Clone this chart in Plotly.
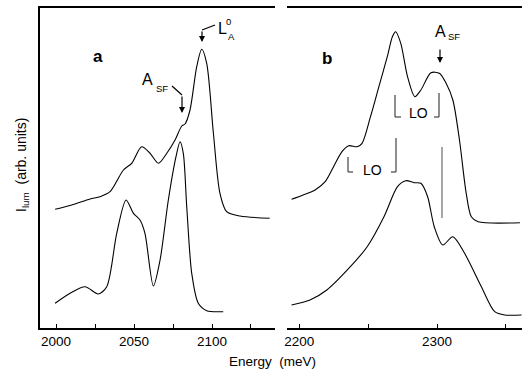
import plotly.graph_objects as go

# ---- data (energy in meV, intensity in arbitrary units) ----
E_a_up = [1999.4, 2010, 2021.8, 2028.2, 2034.6, 2043.2, 2048.5, 2054.9, 2060.3, 2065.6,
          2071.0, 2076.3, 2080.6, 2082.7, 2085.9, 2090.2, 2093.4, 2096.6, 2100.9, 2105.1,
          2109.4, 2118.0, 2137.0]
I_a_up = [118.7, 123, 129.0, 131.3, 136.3, 158.0, 164.7, 181.3, 174.7, 164.7,
          174.7, 188.0, 202.0, 204.0, 218.0, 261.3, 278.7, 264.7, 194.7, 134.7,
          116.3, 112.0, 109.7]

E_a_lo = [1999.4, 2009.0, 2018.6, 2027.1, 2032.5, 2038.9, 2044.9, 2049.6, 2053.8, 2057.0,
          2062.4, 2066.7, 2072.0, 2076.9, 2079.5, 2081.6, 2083.8, 2087.0, 2091.2, 2096.6,
          2107.2]
I_a_lo = [24.7, 34.7, 41.3, 34.0, 41.3, 94.7, 128.0, 114.7, 108.0, 94.7,
          42.0, 68.0, 128.0, 171.3, 186.3, 174.7, 121.3, 54.7, 24.7, 17.3,
          16.3]

E_b_up = [2194.4, 2202.9, 2211.5, 2218.8, 2224.9, 2231.0, 2235.9, 2242.0, 2245.6, 2251.7,
          2257.8, 2263.9, 2267.6, 2270.0, 2273.7, 2278.6, 2283.9, 2288.3, 2295.6, 2301.7,
          2306.6, 2311.5, 2316.3, 2321.2, 2324.9, 2329.8, 2360.2]
I_b_up = [128.7, 133.0, 138.0, 146.3, 161.3, 176.3, 182.3, 181.3, 184.7, 211.3,
          241.3, 271.3, 291.3, 296.3, 284.7, 251.3, 231.3, 238.0, 255.3, 254.7,
          244.7, 228.0, 188.0, 134.7, 111.3, 106.3, 105.3]

E_b_lo = [2194.4, 2207.8, 2220.0, 2237.1, 2249.3, 2261.5, 2271.3, 2277.3, 2283.4, 2288.3,
          2293.2, 2298.0, 2304.2, 2311.5, 2320.0, 2332.2, 2341.9, 2349.2, 2361.4]
I_b_lo = [23.0, 28.0, 38.0, 61.3, 81.3, 111.3, 141.3, 147.3, 145.3, 144.7,
          131.3, 101.3, 83.0, 91.3, 74.7, 41.3, 16.3, 13.0, 13.0]

ticks_a = [2000, 2050, 2100]
ticks_b = [2200, 2300]

# ---- layout geometry ----
W, H = 522, 371
ML, MR, MT, MB = 40, 0, 8, 43
PW, PH = W - ML - MR, H - MT - MB


def px(x):
    return (x - ML) / PW


def py(y):
    return (H - MB - y) / PH


FONT = "Liberation Sans, Arial, sans-serif"
line_style = dict(color="black", width=1.1)

fig = go.Figure()
fig.add_trace(go.Scatter(x=E_a_up, y=I_a_up, mode="lines", line=dict(line_style, shape="spline", smoothing=0.8),
                         xaxis="x", yaxis="y", showlegend=False))
fig.add_trace(go.Scatter(x=E_a_lo, y=I_a_lo, mode="lines", line=dict(line_style, shape="spline", smoothing=0.8),
                         xaxis="x", yaxis="y", showlegend=False))
fig.add_trace(go.Scatter(x=E_b_up, y=I_b_up, mode="lines", line=dict(line_style, shape="spline", smoothing=0.8),
                         xaxis="x2", yaxis="y2", showlegend=False))
fig.add_trace(go.Scatter(x=E_b_lo, y=I_b_lo, mode="lines", line=dict(line_style, shape="spline", smoothing=0.8),
                         xaxis="x2", yaxis="y2", showlegend=False))

axis_common = dict(showgrid=False, zeroline=False, showline=True, linecolor="black", linewidth=1.5,
                   mirror=True, ticks="inside", ticklen=4, tickwidth=1, tickcolor="black",
                   tickfont=dict(family=FONT, size=13.5, color="black"))

fig.update_layout(
    width=W, height=H,
    margin=dict(l=ML, r=MR, t=MT, b=MB),
    paper_bgcolor="white", plot_bgcolor="white",
    xaxis=dict(axis_common, domain=[0, px(275)], range=[1989.7, 2140.4], tickvals=ticks_a,
               minor=dict(dtick=25, tick0=2000, ticks="inside", ticklen=4, tickcolor="black"),
               anchor="y"),
    xaxis2=dict(axis_common, domain=[px(287), 1], range=[2191.1, 2361.7], tickvals=ticks_b,
                minor=dict(dtick=50, tick0=2200, ticks="inside", ticklen=4, tickcolor="black"),
                anchor="y2"),
    yaxis=dict(range=[0, PH], showgrid=False, zeroline=False, showticklabels=False,
               showline=True, linecolor="black", linewidth=1.5, ticks="", anchor="x"),
    yaxis2=dict(range=[0, PH], showgrid=False, zeroline=False, showticklabels=False,
                showline=False, ticks="", anchor="x2", overlaying="y"),
)

ann = []


def text(x, y, s, size=14, bold=False, anchor="center"):
    if bold:
        s = "<b>" + s + "</b>"
    ann.append(dict(x=px(x), y=py(y), xref="paper", yref="paper", text=s, showarrow=False,
                    xanchor=anchor, yanchor="middle", font=dict(family=FONT, size=size, color="black")))


text(98, 57, "a", 17, True)
text(327, 58, "b", 17, True)
text(147, 79, "A", 16)
text(162, 88, "SF", 9.5)
text(222, 28, "L", 16)
text(228, 22, "0", 9.5)
text(231, 36, "A", 9.5)
text(440, 32, "A", 16)
text(454, 37, "SF", 9.5)
text(418, 113, "LO", 14)
text(372, 170, "LO", 14)

# x-axis title and y-axis title
ann.append(dict(x=px(272), y=py(361), xref="paper", yref="paper", text="Energy  (meV)", showarrow=False,
                xanchor="center", yanchor="middle", font=dict(family=FONT, size=13.5, color="black")))
ann.append(dict(x=px(22), y=py(165), xref="paper", yref="paper",
                text="I<sub>lum</sub>  (arb. units)", showarrow=False, textangle=-90,
                xanchor="center", yanchor="middle", font=dict(family=FONT, size=14, color="black")))


def arrow(x0, y0, x1, y1):
    ann.append(dict(x=px(x1), y=py(y1), xref="paper", yref="paper", ax=x0 - x1, ay=y0 - y1,
                    axref="pixel", ayref="pixel", text="", showarrow=True, arrowhead=2,
                    arrowsize=1, arrowwidth=1.2, arrowcolor="black"))


arrow(182, 95, 182, 113)
arrow(202, 30, 202, 42)
arrow(440, 48, 440, 63)

fig.update_layout(annotations=ann)

shapes = []


def seg(x0, y0, x1, y1, color="black", width=1.2):
    shapes.append(dict(type="line", xref="paper", yref="paper", x0=px(x0), y0=py(y0), x1=px(x1), y1=py(y1),
                       line=dict(color=color, width=width)))


seg(172, 86, 182, 95)
seg(215, 25, 202, 30)
# upper LO bracket
seg(395, 95, 395, 117, "#444")
seg(395, 117, 401, 117, "#444")
seg(439, 93, 439, 117, "#444")
seg(434, 117, 439, 117, "#444")
# lower LO bracket
seg(348, 157, 348, 172, "#444")
seg(348, 172, 353, 172, "#444")
seg(396, 138, 396, 172, "#444")
seg(391, 172, 396, 172, "#444")
# long marker line
seg(442, 147, 442, 218, "#777", 1.3)

fig.update_layout(shapes=shapes)

fig.write_html("out.html")
